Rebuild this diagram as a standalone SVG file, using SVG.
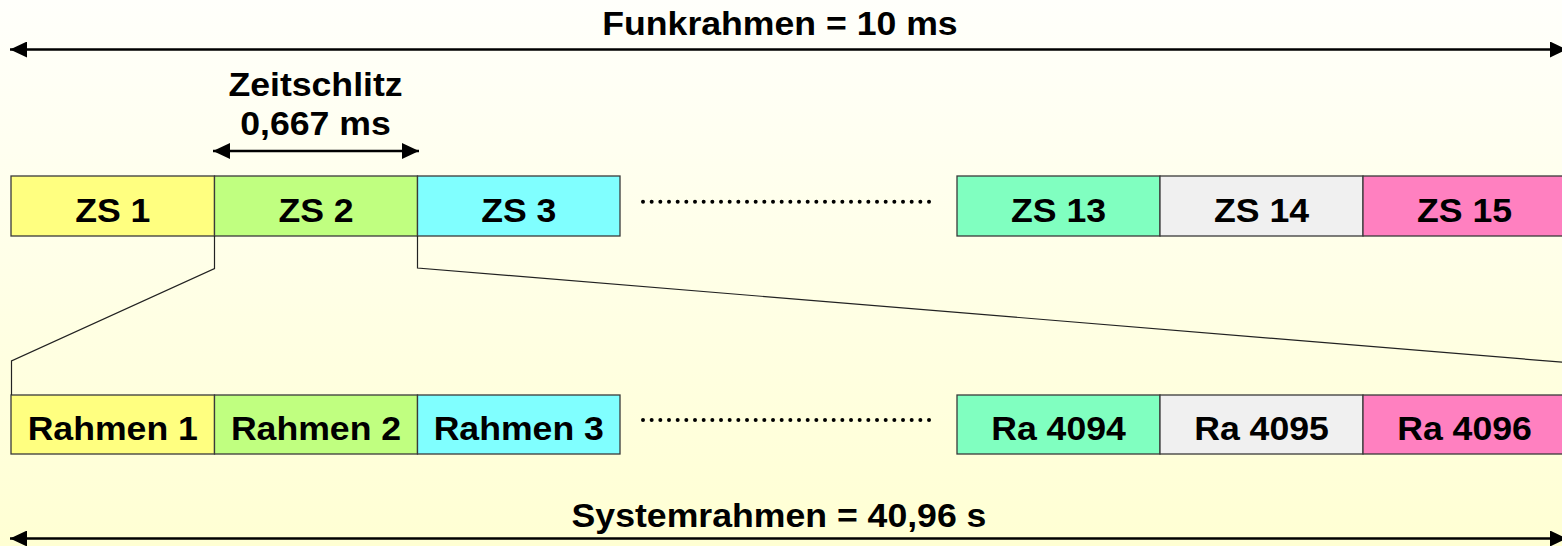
<svg xmlns="http://www.w3.org/2000/svg" width="1562" height="546" viewBox="0 0 1562 546">
  <defs>
    <linearGradient id="bg" x1="0" y1="0" x2="0" y2="1">
      <stop offset="0" stop-color="#FFFFFB"/>
      <stop offset="1" stop-color="#FFFFD3"/>
    </linearGradient>
    <marker id="head" viewBox="0 0 17 16" refX="17" refY="8" markerWidth="17" markerHeight="16" markerUnits="userSpaceOnUse" orient="auto-start-reverse">
      <path d="M0,0 L17,8 L0,16 z" fill="#000"/>
    </marker>
    <style>
      .lbl { font-family: "Liberation Sans", Arial, sans-serif; font-weight: bold; font-size: 33px; fill: #000; text-anchor: middle; }
      .box { stroke: #3A3A3A; stroke-width: 1.3; }
      .dim { stroke: #000; stroke-width: 2.6; fill: none; marker-start: url(#head); marker-end: url(#head); }
      .link { stroke: #222; stroke-width: 1.2; fill: none; }
      .dots { stroke: #000; stroke-width: 4; stroke-linecap: round; stroke-dasharray: 0 8.667; fill: none; }
    </style>
  </defs>

  <rect x="0" y="0" width="1562" height="546" fill="url(#bg)"/>

  <!-- dimension arrows and their labels (labels slightly widened) -->
  <g id="funkrahmen">
    <line class="dim" x1="10" y1="49.5" x2="1567" y2="49.5"/>
    <text class="lbl" transform="translate(780,35) scale(1.08,1)">Funkrahmen = 10 ms</text>
  </g>
  <g id="zeitschlitz">
    <line class="dim" x1="213" y1="151" x2="419" y2="151"/>
    <text class="lbl" transform="translate(315.5,96) scale(1.08,1)">Zeitschlitz</text>
    <text class="lbl" transform="translate(315.5,135) scale(1.08,1)">0,667 ms</text>
  </g>
  <g id="systemrahmen">
    <line class="dim" x1="10" y1="538.5" x2="1567" y2="538.5"/>
    <text class="lbl" transform="translate(779,527) scale(1.08,1)">Systemrahmen = 40,96 s</text>
  </g>

  <!-- time slots of one radio frame -->
  <g id="zs1"><rect class="box" x="11" y="176" width="203.5" height="60" fill="#FFFF80"/><text class="lbl" transform="translate(112.75,222) scale(1.08,1)">ZS 1</text></g>
  <g id="zs2"><rect class="box" x="214.5" y="176" width="203" height="60" fill="#C0FF80"/><text class="lbl" transform="translate(316,222) scale(1.08,1)">ZS 2</text></g>
  <g id="zs3"><rect class="box" x="417.5" y="176" width="202.5" height="60" fill="#80FFFF"/><text class="lbl" transform="translate(518.75,222) scale(1.08,1)">ZS 3</text></g>
  <g id="zs13"><rect class="box" x="957" y="176" width="203" height="60" fill="#80FFC0"/><text class="lbl" transform="translate(1058.5,222) scale(1.08,1)">ZS 13</text></g>
  <g id="zs14"><rect class="box" x="1160" y="176" width="203" height="60" fill="#F0F0F0"/><text class="lbl" transform="translate(1261.5,222) scale(1.08,1)">ZS 14</text></g>
  <g id="zs15"><rect class="box" x="1363" y="176" width="203" height="60" fill="#FF80C0"/><text class="lbl" transform="translate(1464.5,222) scale(1.08,1)">ZS 15</text></g>

  <!-- frames of one system frame -->
  <g id="ra1"><rect class="box" x="11" y="395" width="203.5" height="59" fill="#FFFF80"/><text class="lbl" transform="translate(112.75,440) scale(1.08,1)">Rahmen 1</text></g>
  <g id="ra2"><rect class="box" x="214.5" y="395" width="203" height="59" fill="#C0FF80"/><text class="lbl" transform="translate(316,440) scale(1.08,1)">Rahmen 2</text></g>
  <g id="ra3"><rect class="box" x="417.5" y="395" width="202.5" height="59" fill="#80FFFF"/><text class="lbl" transform="translate(518.75,440) scale(1.08,1)">Rahmen 3</text></g>
  <g id="ra4094"><rect class="box" x="957" y="395" width="203" height="59" fill="#80FFC0"/><text class="lbl" transform="translate(1058.5,440) scale(1.08,1)">Ra 4094</text></g>
  <g id="ra4095"><rect class="box" x="1160" y="395" width="203" height="59" fill="#F0F0F0"/><text class="lbl" transform="translate(1261.5,440) scale(1.08,1)">Ra 4095</text></g>
  <g id="ra4096"><rect class="box" x="1363" y="395" width="203" height="59" fill="#FF80C0"/><text class="lbl" transform="translate(1464.5,440) scale(1.08,1)">Ra 4096</text></g>

  <!-- connectors: ellipsis dots and the zoom lines from ZS 2 -->
  <g id="connectors">
    <line class="dots" x1="643" y1="201.7" x2="930" y2="201.7"/>
    <line class="dots" x1="643" y1="420" x2="930" y2="420"/>
    <polyline class="link" points="214.5,236 214.5,268.5 11.5,361 11.5,395"/>
    <polyline class="link" points="417.5,236 417.5,268 1566,362.5 1566,395"/>
  </g>
</svg>
